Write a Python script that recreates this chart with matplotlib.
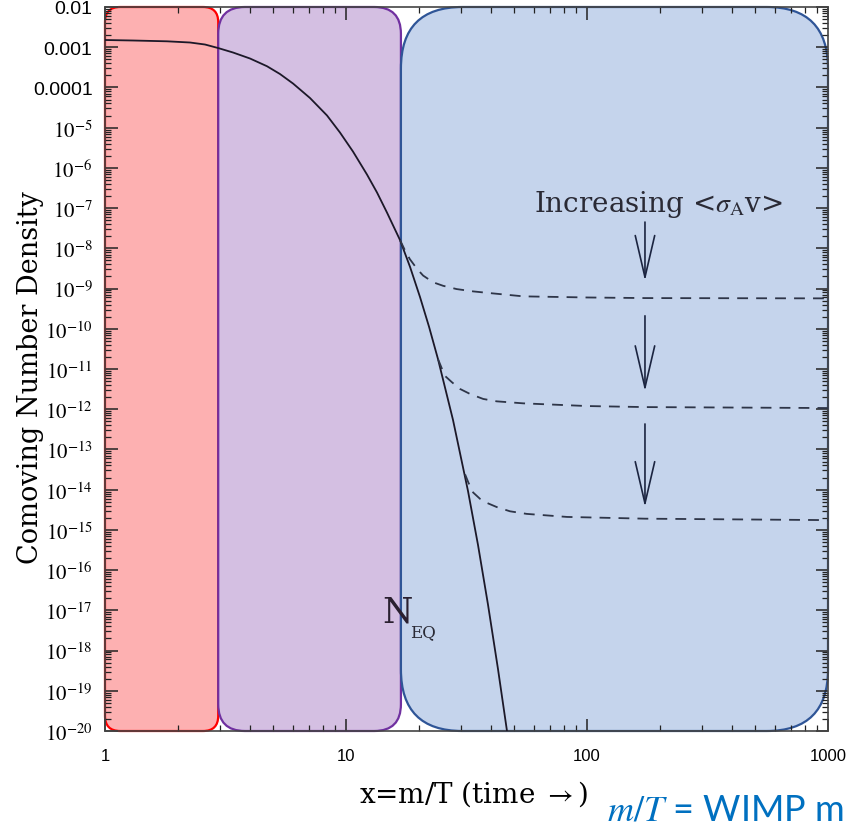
import matplotlib
matplotlib.use("Agg")
import matplotlib.pyplot as plt
from matplotlib.patches import FancyBboxPatch
from matplotlib.ticker import FixedLocator, LogLocator, NullFormatter

plt.rcParams['mathtext.fontset'] = 'stix'

# equilibrium curve
x_eq = [1.0, 1.307, 1.808, 2.253, 2.60, 2.944, 3.398, 3.997, 4.70, 5.32, 6.03, 7.09, 8.34,
        9.44, 10.69, 12.22, 13.45, 14.79, 16.75, 18.44, 20.28, 22.11, 24.08, 27.80, 32.08,
        35.30, 38.83, 42.72, 46.56]
y_eq = [1.512e-3, 1.469e-3, 1.403e-3, 1.310e-3, 1.168e-3, 9.56e-4, 7.39e-4, 5.24e-4, 3.37e-4,
        2.16e-4, 1.25e-4, 5.46e-5, 2.01e-5, 7.58e-6, 2.55e-6, 6.84e-7, 2.44e-7, 7.77e-8,
        1.61e-8, 3.45e-9, 6.16e-10, 1.12e-10, 1.77e-11, 5.40e-13, 9.25e-15, 4.21e-16,
        1.39e-17, 3.48e-19, 1.0e-20]

# freeze-out curves for three cross sections
x_fo1 = [16.75, 17.6, 18.4, 19.7, 20.9, 23.0, 25.3, 28.8, 33.7, 39.6, 54.4, 100, 174, 1000]
y_fo1 = [1.61e-8, 8.7e-9, 5.4e-9, 3.1e-9, 2.1e-9, 1.43e-9, 1.17e-9, 9.7e-10, 8.5e-10, 7.7e-10,
         6.4e-10, 6.0e-10, 5.8e-10, 5.7e-10]
x_fo2 = [24.08, 25.7, 27.5, 29.7, 32.7, 37.1, 42.2, 54.4, 100, 174, 1000]
y_fo2 = [1.77e-11, 6.8e-12, 4.7e-12, 3.2e-12, 2.4e-12, 1.8e-12, 1.57e-12, 1.4e-12, 1.2e-12,
         1.13e-12, 1.07e-12]
x_fo3 = [31.2, 32.2, 33.7, 36.0, 38.4, 42.2, 47.9, 56.2, 82.6, 174, 1000]
y_fo3 = [2.4e-14, 1.5e-14, 8.5e-15, 5.9e-15, 4.7e-15, 3.7e-15, 2.9e-15, 2.5e-15, 2.1e-15,
         1.9e-15, 1.75e-15]

# arrows "increasing <sigma v>"
arrow_x = 174
arrow_from = [4.5e-8, 2.1e-10, 4.3e-13]
arrow_to = [1.55e-9, 2.8e-12, 3.7e-15]

# shaded regions: edges in x, colours
region_edges = [1.0, 2.95, 16.9, 1000]
region_fill = ['#fdb0b1', '#d4bfe2', '#c5d4ec']
region_line = ['#ff0000', '#7030a0', '#2f5597']
region_round = [0.021, 0.037, 0.085]

y_exps = list(range(-20, -1))
y_labels = []
for e in y_exps:
    if e == -2:
        y_labels.append('0.01')
    elif e == -3:
        y_labels.append('0.001')
    elif e == -4:
        y_labels.append('0.0001')
    else:
        y_labels.append(r'$10^{%d}$' % e)
x_ticks = [1, 10, 100, 1000]
x_labels = ['1', '10', '100', '1000']

fig = plt.figure(figsize=(8.51, 8.29), dpi=100)
ax = fig.add_axes([105/851, 1 - 732/829, 723/851, 724/829])
ax.set_xscale('log')
ax.set_yscale('log')
ax.set_xlim(1, 1000)
ax.set_ylim(1e-20, 1e-2)

# boxes, placed in axes fraction from data edges
to_ax = ax.transData + ax.transAxes.inverted()
for i in range(3):
    x0 = to_ax.transform((region_edges[i], 1e-10))[0]
    x1 = to_ax.transform((region_edges[i + 1], 1e-10))[0]
    box = FancyBboxPatch((x0, 0), x1 - x0, 1,
                         boxstyle='round,pad=0,rounding_size=%g' % region_round[i],
                         transform=ax.transAxes, facecolor=region_fill[i],
                         edgecolor=region_line[i], lw=1.6, zorder=1, clip_on=False)
    ax.add_patch(box)

ax.plot(x_eq, y_eq, color='#1c1828', lw=1.3, zorder=3)
for xs, ys in [(x_fo1, y_fo1), (x_fo2, y_fo2), (x_fo3, y_fo3)]:
    ax.plot(xs, ys, color='#2e3548', lw=1.3, dashes=(6, 4.5), zorder=3)

for a, b in zip(arrow_from, arrow_to):
    ax.annotate('', xy=(arrow_x, b), xytext=(arrow_x, a),
                arrowprops=dict(arrowstyle='->,head_length=3.0,head_width=0.7',
                                lw=1.2, color='#1b2440', shrinkA=0, shrinkB=0,
                                mutation_scale=10), zorder=3)

ax.text(0.765, 0.718, r'Increasing <$\sigma_{\rm A}$v>', transform=ax.transAxes,
        ha='center', va='baseline', fontsize=20, family='DejaVu Serif',
        color='#2a2a35', zorder=4)
ax.text(0.404, 0.151, 'N', transform=ax.transAxes, ha='center', va='baseline',
        fontsize=25, family='DejaVu Serif', color='#2a2030', zorder=2)
ax.text(0.422, 0.131, 'EQ', transform=ax.transAxes, ha='left', va='baseline',
        fontsize=12, family='DejaVu Serif', color='#2a2a35', zorder=4)

# ticks
ax.yaxis.set_major_locator(FixedLocator([10.0**e for e in y_exps]))
ax.set_yticklabels(y_labels)
ax.yaxis.set_minor_locator(LogLocator(base=10, subs=range(2, 10), numticks=100))
ax.yaxis.set_minor_formatter(NullFormatter())
ax.set_xticks(x_ticks)
ax.set_xticklabels(x_labels)
ax.xaxis.set_minor_locator(LogLocator(base=10, subs=range(2, 10), numticks=100))
ax.xaxis.set_minor_formatter(NullFormatter())
ax.tick_params(which='both', direction='in', top=True, right=True, color='#222222')
ax.tick_params(which='major', length=9, width=1.1)
ax.tick_params(which='minor', length=4.5, width=0.9)
ax.tick_params(axis='y', which='major', labelsize=13, pad=9)
ax.tick_params(axis='x', which='major', labelsize=12, pad=12)
for lab in ax.get_xticklabels():
    lab.set_family('Liberation Sans')
for lab, e in zip(ax.get_yticklabels(), y_exps):
    if e >= -4:
        lab.set_family('Liberation Sans')
        lab.set_fontsize(14)
    else:
        lab.set_fontsize(15)
for s in ax.spines.values():
    s.set_color('#444444')
    s.set_linewidth(1.2)

ax.set_ylabel('Comoving Number Density', family='DejaVu Serif', fontsize=19.5)
ax.yaxis.set_label_coords(-0.085, 0.49)
ax.set_xlabel(r'x=m/T (time $\rightarrow$)', family='DejaVu Serif', fontsize=20)
ax.xaxis.set_label_coords(0.51, -0.065)

fig.text(607/851, 1 - 821/829, r'$m/T$ = WIMP m', color='#0070c0', fontsize=26,
         family='Lato', ha='left', va='baseline')

fig.savefig('out.png', dpi=100)
